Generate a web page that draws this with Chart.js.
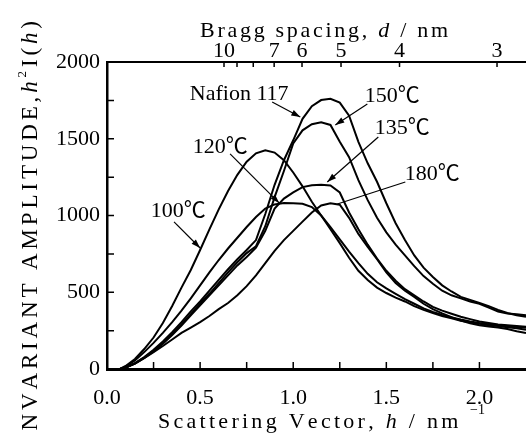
<!DOCTYPE html>
<html>
<head>
<meta charset="utf-8">
<script src="https://cdn.jsdelivr.net/npm/chart.js@4.4.1/dist/chart.umd.min.js"></script>
<style>
  html, body { margin: 0; padding: 0; background: #fff; }
</style>
</head>
<body>
<canvas id="saxs" width="526" height="433"></canvas>
<script>
// scattering vector h (nm^-1), shared by every curve
const h = [0.07, 0.1, 0.15, 0.2, 0.25, 0.3, 0.35, 0.4, 0.45, 0.5, 0.55, 0.6, 0.65, 0.7, 0.75,
  0.8, 0.85, 0.9, 0.95, 1.0, 1.05, 1.1, 1.15, 1.2, 1.25, 1.3, 1.35, 1.4, 1.45, 1.5,
  1.55, 1.6, 1.65, 1.7, 1.75, 1.8, 1.85, 1.9, 1.95, 2.0, 2.05, 2.1, 2.15, 2.2, 2.25];

// invariant amplitude h^2 I(h)
const t100 = [0, 20, 65, 130, 205, 300, 410, 530, 645, 775, 910, 1040, 1160, 1265, 1350,
  1405, 1425, 1410, 1360, 1280, 1190, 1090, 1000, 910, 820, 725, 640, 580, 530, 495,
  465, 440, 410, 385, 365, 345, 330, 315, 305, 295, 285, 280, 272, 265, 255];
const t120 = [0, 15, 55, 110, 170, 235, 305, 380, 460, 545, 630, 710, 785, 855, 925,
  990, 1045, 1072, 1082, 1080, 1076, 1055, 1000, 925, 845, 765, 690, 620, 565, 525,
  490, 455, 425, 395, 372, 352, 336, 322, 310, 300, 292, 286, 280, 274, 268];
const t135 = [0, 10, 35, 72, 115, 165, 222, 283, 350, 415, 480, 545, 610, 675, 730,
  790, 900, 1045, 1110, 1150, 1185, 1197, 1200, 1195, 1150, 1020, 910, 810, 720, 640,
  575, 520, 480, 440, 405, 380, 360, 340, 325, 310, 300, 290, 285, 280, 275];
const t150 = [0, 10, 36, 74, 118, 170, 228, 290, 358, 425, 490, 560, 630, 695, 755,
  800, 930, 1120, 1290, 1470, 1555, 1595, 1608, 1590, 1480, 1380, 1230, 1100, 985, 890,
  810, 740, 670, 605, 555, 510, 480, 460, 440, 425, 400, 375, 362, 356, 350];
const t180 = [0, 10, 35, 70, 110, 150, 192, 235, 270, 305, 345, 390, 430, 480, 540,
  610, 690, 770, 840, 900, 960, 1020, 1065, 1080, 1070, 985, 880, 795, 715, 630,
  560, 510, 470, 425, 390, 362, 338, 315, 298, 285, 277, 270, 260, 246, 234];
const nafion = [0, 10, 38, 78, 125, 180, 240, 305, 375, 440, 510, 580, 650, 715, 775,
  840, 1010, 1200, 1360, 1490, 1630, 1712, 1752, 1760, 1735, 1650, 1480, 1340, 1220, 1080,
  950, 840, 740, 660, 600, 545, 505, 470, 450, 430, 410, 385, 365, 350, 340];

// top axis: Bragg spacing d = 2*pi/h
const braggD = [10, 9, 8, 7, 6, 5, 4, 3];
const braggLabelled = [10, 7, 6, 5, 4, 3];

const serif = "'Liberation Serif', 'Noto Sans CJK JP', serif";

// label text, label centre, arrow start, arrow end (all in data units)
const notes = [
  { text: 'Nafion 117', at: [0.71, 1792], from: [0.887, 1739], to: [1.038, 1642], head: true },
  { text: '150\u2103', at: [1.532, 1778], from: [1.398, 1726], to: [1.226, 1590], head: true },
  { text: '135\u2103', at: [1.586, 1570], from: [1.457, 1511], to: [1.183, 1218], head: true },
  { text: '120\u2103', at: [0.608, 1446], from: [0.661, 1401], to: [0.925, 1081], head: true },
  { text: '180\u2103', at: [1.747, 1270], from: [1.602, 1218], to: [1.237, 1075], head: false },
  { text: '100\u2103', at: [0.382, 1029], from: [0.36, 958], to: [0.5, 788], head: true }
];

const series = [t100, t120, t135, t150, t180, nafion];

function spreadText(ctx, pieces, len) {
  // draws pieces starting at 0 along x, spreading letters to fill len
  let natural = 0, count = 0;
  pieces.forEach(p => { ctx.font = p.font; natural += ctx.measureText(p.t).width; count += p.t.length; });
  const gap = (len - natural) / Math.max(count - 1, 1);
  let cx = 0;
  pieces.forEach(p => {
    ctx.font = p.font;
    for (const ch of p.t) {
      ctx.fillText(ch, cx, p.dy || 0);
      cx += ctx.measureText(ch).width + gap;
    }
  });
}

const decorations = {
  id: 'decorations',
  afterDraw(chart) {
    const { ctx, chartArea: a, scales: { x, x2, y } } = chart;
    ctx.save();
    ctx.strokeStyle = '#000';
    ctx.fillStyle = '#000';

    // inward tick marks
    ctx.lineWidth = 1.5;
    ctx.beginPath();
    for (let v = 250; v < 2000; v += 250) {
      const py = y.getPixelForValue(v);
      ctx.moveTo(a.left, py); ctx.lineTo(a.left + 7, py);
    }
    for (let v = 0.25; v < 2.25; v += 0.25) {
      const px = x.getPixelForValue(v);
      ctx.moveTo(px, a.bottom); ctx.lineTo(px, a.bottom - 7);
    }
    x2.ticks.forEach(t => {
      const px = x2.getPixelForValue(t.value);
      ctx.moveTo(px, a.top); ctx.lineTo(px, a.top + 5);
    });
    ctx.stroke();

    // annotations
    ctx.lineWidth = 1.2;
    ctx.textAlign = 'center';
    ctx.textBaseline = 'middle';
    notes.forEach(n => {
      ctx.font = '22px ' + serif;
      ctx.fillText(n.text, x.getPixelForValue(n.at[0]), y.getPixelForValue(n.at[1]));
      const x1 = x.getPixelForValue(n.from[0]), y1 = y.getPixelForValue(n.from[1]);
      const x2p = x.getPixelForValue(n.to[0]), y2p = y.getPixelForValue(n.to[1]);
      ctx.beginPath(); ctx.moveTo(x1, y1); ctx.lineTo(x2p, y2p); ctx.stroke();
      if (n.head) {
        const ang = Math.atan2(y2p - y1, x2p - x1);
        ctx.beginPath();
        ctx.moveTo(x2p, y2p);
        ctx.lineTo(x2p - 9 * Math.cos(ang) + 3 * Math.sin(ang), y2p - 9 * Math.sin(ang) - 3 * Math.cos(ang));
        ctx.lineTo(x2p - 9 * Math.cos(ang) - 3 * Math.sin(ang), y2p - 9 * Math.sin(ang) + 3 * Math.cos(ang));
        ctx.closePath(); ctx.fill();
      }
    });

    // axis titles
    ctx.textAlign = 'left';
    ctx.textBaseline = 'alphabetic';
    ctx.save();
    ctx.translate(200, 37);
    spreadText(ctx, [
      { t: 'Bragg spacing, ', font: '22px ' + serif },
      { t: 'd', font: 'italic 22px ' + serif },
      { t: ' / nm', font: '22px ' + serif }
    ], 248);
    ctx.restore();

    ctx.save();
    ctx.translate(158, 428);
    spreadText(ctx, [
      { t: 'Scattering Vector, ', font: '22px ' + serif },
      { t: 'h', font: 'italic 22px ' + serif },
      { t: ' / nm', font: '22px ' + serif }
    ], 297);
    ctx.restore();
    ctx.font = '14px ' + serif;
    ctx.fillText('\u22121', 470, 414);

    ctx.save();
    ctx.translate(37, 18);
    ctx.rotate(-Math.PI / 2);
    ctx.translate(-424, 0);
    spreadText(ctx, [
      { t: 'INVARIANT AMPLITUDE,', font: '23px ' + serif },
      { t: 'h', font: 'italic 23px ' + serif },
      { t: '2', font: '13px ' + serif, dy: -11 },
      { t: 'I(', font: '23px ' + serif },
      { t: 'h', font: 'italic 23px ' + serif },
      { t: ')', font: '23px ' + serif }
    ], 418);
    ctx.restore();

    ctx.restore();
  }
};

const tickFont = { family: serif, size: 22 };

new Chart(document.getElementById('saxs'), {
  type: 'line',
  data: {
    datasets: series.map(s => ({
      data: h.map((hv, i) => ({ x: hv, y: s[i] })),
      borderColor: '#000',
      borderWidth: 2,
      pointRadius: 0,
      fill: false,
      tension: 0
    }))
  },
  options: {
    responsive: false,
    animation: false,
    devicePixelRatio: 1,
    layout: { padding: 0 },
    plugins: { legend: { display: false }, tooltip: { enabled: false } },
    scales: {
      x: {
        type: 'linear', position: 'bottom', min: 0, max: 2.25,
        afterFit: s => { s.height = 64; },
        grid: { drawOnChartArea: false, drawTicks: false },
        border: { color: '#000', width: 3 },
        ticks: {
          stepSize: 0.5, includeBounds: false, padding: 16, color: '#000', font: tickFont,
          maxRotation: 0, autoSkip: false,
          callback: v => v.toFixed(1)
        }
      },
      x2: {
        type: 'linear', position: 'top', min: 0, max: 2.25,
        afterFit: s => { s.height = 62; },
        afterBuildTicks: s => { s.ticks = braggD.map(d => ({ value: 2 * Math.PI / d })); },
        grid: { drawOnChartArea: false, drawTicks: false },
        border: { color: '#000', width: 2 },
        ticks: {
          padding: -2, color: '#000', font: tickFont, maxRotation: 0, autoSkip: false,
          callback: v => {
            const d = Math.round(2 * Math.PI / v);
            return braggLabelled.includes(d) ? String(d) : '';
          }
        }
      },
      y: {
        min: 0, max: 2000,
        afterFit: s => { s.width = 107; },
        grid: { drawOnChartArea: false, drawTicks: false },
        border: { color: '#000', width: 2.5 },
        ticks: { stepSize: 500, padding: 7, color: '#000', font: tickFont, callback: v => String(v) }
      }
    }
  },
  plugins: [decorations]
});
</script>
</body>
</html>
